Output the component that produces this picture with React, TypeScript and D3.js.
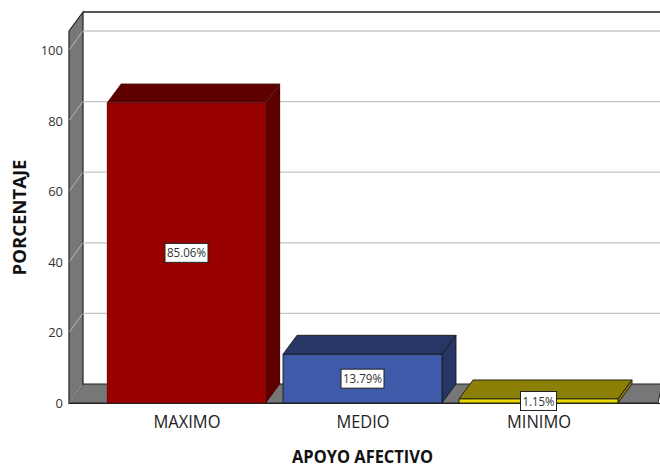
import * as d3 from "d3";

const categories = ["MAXIMO", "MEDIO", "MINIMO"];
const categoryLabelWidths = [67, 53, 64];
const percentages = [85.06, 13.79, 1.15];
const percentLabels = ["85.06%", "13.79%", "1.15%"];
const frontColors = ["#990000", "#3F5AA8", "#E6D800"];
const topColors = ["#5E0000", "#263766", "#8C7F05"];
const sideColors = ["#5E0000", "#263766", "#8C7F05"];
const yTicks = [0, 20, 40, 60, 80, 100];

const WIDTH = 660;
const HEIGHT = 467;
const DEPTH_X = 14;
const DEPTH_Y = 19;
const FONT = "'Open Sans', 'Noto Sans', sans-serif";

const y = d3.scaleLinear().domain([0, 100]).range([403, 50]);
const x = d3.scaleBand<string>().domain(categories).range([107, 618]).paddingInner(17 / 176);

const poly = (pts: [number, number][]) => pts.map((p) => p.join(",")).join(" ");

export default function App() {
  const x0 = 69;
  const base = y(0);
  const wallFrontTop = y(100) - DEPTH_Y;
  const wallBackTop = wallFrontTop - DEPTH_Y;
  return (
    <svg
      width={WIDTH}
      height={HEIGHT}
      viewBox={`0 0 ${WIDTH} ${HEIGHT}`}
      style={{ position: "absolute", left: 0, top: 0, background: "#fff" }}
      fontFamily={FONT}
    >
      {/* floor */}
      <polygon
        points={poly([
          [x0 + DEPTH_X, base - DEPTH_Y],
          [WIDTH + 2, base - DEPTH_Y],
          [WIDTH - 2, base],
          [x0, base],
        ])}
        fill="#777777"
        stroke="#222"
        strokeWidth={1}
      />
      {/* left wall */}
      <polygon
        points={poly([
          [x0, wallFrontTop],
          [x0 + DEPTH_X, wallBackTop],
          [x0 + DEPTH_X, base - DEPTH_Y],
          [x0, base],
        ])}
        fill="#777777"
        stroke="#222"
        strokeWidth={1.2}
      />
      <line x1={x0 + DEPTH_X} x2={WIDTH} y1={wallBackTop} y2={wallBackTop} stroke="#222" strokeWidth={1.4} />

      {/* gridlines run across the back wall and fold down the left wall */}
      {yTicks.map((t) => (
        <g key={t}>
          {t > 0 && (
            <line
              x1={x0 + DEPTH_X}
              x2={WIDTH}
              y1={y(t) - DEPTH_Y}
              y2={y(t) - DEPTH_Y}
              stroke="#c4c4c4"
              strokeWidth={1.3}
            />
          )}
          <line
            x1={x0 + 0.5}
            x2={x0 + DEPTH_X - 0.5}
            y1={y(t) - 0.5}
            y2={y(t) - DEPTH_Y + 0.5}
            stroke="#b8b8b8"
            strokeWidth={1}
          />
          <text x={63} y={y(t) + 5} textAnchor="end" fontSize={13} fill="#333">
            {t}
          </text>
        </g>
      ))}

      {/* extruded bars */}
      {categories.map((c, i) => {
        const l = x(c)!;
        const r = l + x.bandwidth();
        const t = y(percentages[i]);
        return (
          <g key={c} stroke="#1a1a1a" strokeWidth={0.9} strokeLinejoin="round">
            <polygon
              points={poly([
                [l, t],
                [l + DEPTH_X, t - DEPTH_Y],
                [r + DEPTH_X, t - DEPTH_Y],
                [r, t],
              ])}
              fill={topColors[i]}
              strokeOpacity={i === 0 ? 0.3 : 1}
            />
            <polygon
              points={poly([
                [r, t],
                [r + DEPTH_X, t - DEPTH_Y],
                [r + DEPTH_X, base - DEPTH_Y],
                [r, base],
              ])}
              fill={sideColors[i]}
              strokeOpacity={i === 0 ? 0.3 : 1}
            />
            <rect
              x={l}
              y={t}
              width={r - l}
              height={base - t}
              fill={frontColors[i]}
              strokeOpacity={i === 0 ? 0.3 : 1}
            />
          </g>
        );
      })}
      <line x1={x0} x2={WIDTH} y1={base + 0.5} y2={base + 0.5} stroke="#222" strokeWidth={1} />

      {/* value boxes, centred on the front face of each bar */}
      {categories.map((c, i) => {
        const cx = x(c)! + x.bandwidth() / 2;
        const mid = i === 2 ? base - 2 : (y(percentages[i]) + base) / 2;
        const w = i === 2 ? 36 : 43;
        const h = 20;
        return (
          <g key={c + "-label"}>
            <rect x={cx - w / 2} y={mid - h / 2 + 0.5} width={w} height={h - 1} fill="#fff" stroke="#222" strokeWidth={1} />
            <text x={cx} y={mid + 4.5} textAnchor="middle" fontSize={12} fill="#333" textLength={w - 4} lengthAdjust="spacingAndGlyphs">
              {percentLabels[i]}
            </text>
          </g>
        );
      })}

      {/* category labels */}
      {categories.map((c, i) => (
        <text
          key={c + "-tick"}
          x={x(c)! + x.bandwidth() / 2 + 0.5}
          y={428}
          textAnchor="middle"
          fontSize={18}
          fill="#222"
          textLength={categoryLabelWidths[i]}
          lengthAdjust="spacingAndGlyphs"
        >
          {c}
        </text>
      ))}

      <text x={362.5} y={463} textAnchor="middle" fontSize={17.5} fontWeight={700} fill="#111" textLength={141} lengthAdjust="spacingAndGlyphs">
        APOYO AFECTIVO
      </text>
      <text
        transform="translate(26,217.5) rotate(-90)"
        textAnchor="middle"
        fontSize={17.5}
        fontWeight={700}
        fill="#111"
        textLength={116}
        lengthAdjust="spacingAndGlyphs"
      >
        PORCENTAJE
      </text>
    </svg>
  );
}
